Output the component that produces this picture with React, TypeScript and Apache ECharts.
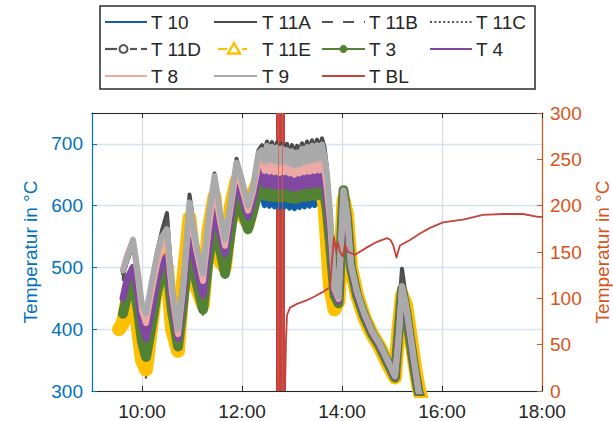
import React, { useEffect, useRef } from "react";
import * as echarts from "echarts";

// Sample times (decimal hours) shared by the furnace thermocouples
const TIMES = [9.54, 9.62, 9.7, 9.82, 9.92, 10.0, 10.08, 10.18, 10.3, 10.4, 10.5, 10.6, 10.72, 10.82, 10.95, 11.08, 11.22, 11.33, 11.45, 11.56, 11.66, 11.78, 11.89, 12.0, 12.12, 12.22, 12.33,
  12.4, 12.45, 12.5, 12.55, 12.6, 12.65, 12.7, 12.75, 12.8, 12.85, 12.9, 12.95, 13.0, 13.05, 13.1, 13.15, 13.2, 13.25, 13.3, 13.35, 13.4, 13.45, 13.5, 13.55, 13.6, 13.65, 13.7,
  13.76, 13.85, 13.93, 14.03, 14.1, 14.18, 14.3, 14.45, 14.6, 14.75, 14.9, 15.06, 15.13, 15.2, 15.28, 15.36, 15.45, 15.53, 15.6];

const T10 = [null, 420, 450, 472, 425, 375, 350, 395, 455, 485, 500, 425, 368, 435, 535, 475, 428, 505, 572, 525, 486, 555, 614, 585, 558, 585, 612,
  612, 600, 613, 599, 612, 598, 611, 597, 610, 598, 609, 596, 608, 595, 607, 597, 610, 598, 611, 599, 612, 600, 613, 601, 614, 602, 575,
  535, 452, 440, 622, 578, 498, 453, 418, 391, 371, 346, 320, 392, 460, 428, 383, 333, 296, 280];
const T11A = [null, 490, 512, 540, 488, 438, 420, 470, 525, 560, 588, 475, 400, 475, 618, 545, 492, 585, 652, 595, 548, 615, 676, 645, 604, 636, 690,
  698, 688, 704, 690, 703, 688, 702, 687, 701, 688, 700, 686, 698, 684, 697, 686, 701, 688, 704, 690, 706, 692, 707, 693, 709, 695, 660,
  598, 475, 455, 628, 595, 510, 465, 428, 400, 380, 355, 328, 420, 498, 450, 398, 348, 302, 286];
const T11B = [null, 486, 508, 536, 484, 434, 415, 465, 520, 555, 580, 470, 396, 472, 612, 542, 489, 582, 647, 592, 546, 612, 672, 642, 602, 633, 686,
  695, 685, 701, 687, 700, 685, 699, 684, 698, 685, 697, 683, 695, 681, 694, 683, 698, 685, 701, 687, 703, 689, 704, 690, 706, 692, 657,
  595, 473, 454, 626, 593, 508, 464, 427, 399, 379, 354, 327, 410, 490, 447, 397, 347, 301, 285];
const T11C = [null, 483, 505, 532, 480, 430, 410, 462, 516, 550, 572, 466, 393, 470, 608, 538, 486, 578, 643, 588, 543, 608, 668, 638, 600, 630, 682,
  693, 683, 699, 685, 698, 683, 697, 682, 696, 683, 695, 681, 693, 679, 692, 681, 696, 683, 699, 685, 701, 687, 702, 688, 704, 690, 655,
  593, 472, 453, 625, 592, 507, 463, 426, 398, 378, 353, 326, 405, 485, 445, 396, 346, 301, 285];
const T11D = [null, 480, 508, 535, 480, 430, 322, 460, 515, 548, 575, 465, 362, 468, 600, 535, 424, 575, 640, 585, 540, 605, 665, 635, 596, 628, 682,
  690, 680, 696, 682, 695, 680, 694, 679, 693, 680, 692, 678, 690, 676, 689, 678, 693, 680, 696, 682, 698, 684, 699, 685, 701, 687, 652,
  592, 470, 450, 624, 590, 505, 461, 424, 397, 377, 351, 324, 400, 485, 445, 396, 346, 300, 284];
const T11E = [400, 410, 445, 470, 400, 350, 335, 400, 480, 520, 500, 400, 365, 475, 580, 470, 440, 560, 615, 510, 500, 600, 640, 585, 572, 620, 640,
  645, 628, 646, 627, 644, 626, 643, 625, 642, 626, 641, 624, 640, 623, 639, 625, 642, 626, 643, 627, 644, 628, 640, 622, 625, 600, 540,
  470, 432, 445, 610, 585, 500, 455, 418, 392, 372, 346, 322, 400, 455, 440, 395, 345, 305, 285];
const T3 = [null, 425, 455, 478, 430, 380, 355, 400, 460, 490, 505, 430, 372, 440, 540, 480, 432, 510, 577, 530, 490, 560, 620, 590, 562, 590, 628,
  635, 616, 636, 615, 634, 614, 633, 613, 632, 614, 631, 612, 630, 611, 629, 613, 632, 614, 633, 615, 634, 616, 635, 617, 636, 618, 590,
  540, 455, 442, 625, 580, 500, 455, 420, 393, 373, 348, 322, 395, 465, 430, 385, 335, 298, 282];
const T4 = [null, 450, 480, 500, 455, 405, 385, 425, 480, 508, 518, 445, 385, 455, 560, 500, 455, 530, 595, 555, 522, 585, 642, 612, 582, 610, 648,
  657, 634, 658, 633, 656, 632, 655, 631, 654, 632, 653, 630, 652, 628, 651, 630, 654, 632, 655, 633, 656, 634, 657, 635, 658, 636, 605,
  560, 460, 446, 620, 585, 502, 458, 422, 395, 375, 350, 323, 390, 462, 435, 390, 340, 300, 283];
const T8 = [null, 497, 520, 543, 485, 430, 410, 455, 505, 535, 545, 458, 392, 465, 590, 530, 478, 560, 630, 575, 535, 600, 660, 628, 592, 622, 668,
  680, 656, 681, 655, 679, 654, 678, 653, 677, 654, 676, 652, 675, 650, 674, 652, 677, 654, 678, 655, 679, 656, 680, 657, 681, 658, 625,
  575, 465, 449, 622, 588, 503, 460, 424, 396, 376, 351, 324, 385, 466, 438, 393, 343, 300, 284];
const T9 = [null, 495, 515, 545, 490, 440, 425, 470, 520, 550, 562, 470, 400, 470, 605, 540, 490, 580, 648, 590, 545, 610, 670, 640, 600, 630, 685,
  690, 672, 697, 674, 695, 672, 694, 670, 693, 671, 690, 668, 688, 665, 686, 667, 692, 670, 695, 672, 697, 674, 698, 676, 699, 678, 650,
  590, 470, 452, 625, 590, 505, 462, 425, 398, 378, 352, 325, 380, 470, 440, 395, 345, 300, 285];

// Base-layer temperature (right axis)
const BL_TIMES = [12.86, 12.88, 12.9, 12.96, 13.1, 13.3, 13.45, 13.62, 13.76, 13.8, 13.84, 13.88, 13.92, 13.96, 14.02, 14.06, 14.12, 14.26, 14.5, 14.7, 14.9, 14.97, 15.02, 15.09, 15.13, 15.16, 15.36, 15.56, 15.76, 16.02, 16.42, 16.82, 17.22, 17.62, 17.92, 18.0];
const BL_VALUES = [0, 55, 82, 90, 94, 98, 102, 107, 112, 140, 166, 152, 160, 150, 145, 158, 150, 147, 155, 161, 165, 163, 158, 144, 152, 157, 163, 170, 176, 182, 185, 190, 191, 191, 188, 188];
// Interval in which the base-layer sensor reading swings across the full range
const BL_BAND = [12.68, 12.86];
const BL_BAND_STREAKS = [12.735, 12.8];

const X_TICKS = [10, 12, 14, 16, 18];

const AXIS_BLUE = "#0072BD";
const AXIS_ORANGE = "#D95319";
const INK = "#262626";
const FONT = "'Liberation Sans', Arial, Helvetica, sans-serif";

type Marker = "none" | "circle" | "triangle" | "dot";
interface Def {
  name: string;
  values: (number | null)[];
  color: string;
  width: number;
  dash: "solid" | "dashed" | "dotted" | number[];
  legendDash?: number[];
  marker: Marker;
}

const DEFS: Def[] = [
  { name: "T 10", values: T10, color: "#115FA8", width: 5, dash: "solid", marker: "none" },
  { name: "T 11A", values: T11A, color: "#4A4A4A", width: 4, dash: "solid", marker: "none" },
  { name: "T 11B", values: T11B, color: "#555555", width: 2.5, dash: "dashed", legendDash: [11, 10], marker: "none" },
  { name: "T 11C", values: T11C, color: "#555555", width: 2.5, dash: "dotted", legendDash: [2, 2.4], marker: "none" },
  { name: "T 11D", values: T11D, color: "#555555", width: 2.5, dash: [8, 3, 2, 3], marker: "circle" },
  { name: "T 11E", values: T11E, color: "#FFC000", width: 14, dash: "solid", marker: "triangle" },
  { name: "T 3", values: T3, color: "#548235", width: 10, dash: "solid", marker: "dot" },
  { name: "T 4", values: T4, color: "#8048A0", width: 7, dash: "solid", marker: "none" },
  { name: "T 8", values: T8, color: "#EBAAA5", width: 6, dash: "solid", marker: "none" },
  { name: "T 9", values: T9, color: "#AAAAAA", width: 6, dash: "solid", marker: "none" },
];
const BL_NAME = "T BL";
const BL_COLOR = "#C7423A";

function buildLegend(): any[] {
  const rowsY = [22, 49, 76];
  const colLine = [[105, 147], [214, 257], [322, 365], [430, 472]];
  const colText = [151, 262, 369, 476];
  const entries = [
    ...DEFS.map((d) => ({ name: d.name, color: d.color, dash: d.legendDash || null, marker: d.marker })),
    { name: BL_NAME, color: BL_COLOR, dash: null as number[] | null, marker: "none" as Marker },
  ];
  const els: any[] = [
    {
      type: "rect",
      shape: { x: 100, y: 6, width: 435, height: 83 },
      style: { fill: "#ffffff", stroke: "#2b2b2b", lineWidth: 1.5 },
      z: 100,
    },
  ];
  const seg = (x1: number, x2: number, y: number, color: string, dash?: number[] | null) => ({
    type: "line",
    shape: { x1, y1: y, x2, y2: y },
    style: { stroke: color, lineWidth: 2.2, lineDash: dash || null },
    z: 101,
  });
  entries.forEach((e, i) => {
    const row = Math.floor(i / 4);
    const col = i % 4;
    const y = rowsY[row];
    const [x0, x1] = colLine[col];
    if (e.marker === "circle") {
      els.push(seg(x0, x0 + 12, y, e.color));
      els.push(seg(x0 + 25, x0 + 32, y, e.color));
      els.push(seg(x0 + 36, x1, y, e.color));
      els.push({
        type: "circle",
        shape: { cx: x0 + 18.5, cy: y, r: 4 },
        style: { fill: "#ffffff", stroke: e.color, lineWidth: 2 },
        z: 102,
      });
    } else if (e.marker === "triangle") {
      const cx = x0 + 20;
      els.push(seg(x0 + 4, x0 + 13, y, e.color));
      els.push(seg(x0 + 28, x0 + 33, y, e.color));
      els.push({
        type: "polygon",
        shape: { points: [[cx - 6, y + 4.5], [cx + 6, y + 4.5], [cx, y - 6]] },
        style: { fill: "none", stroke: e.color, lineWidth: 2.4 },
        z: 102,
      });
    } else {
      els.push(seg(x0, x1, y, e.color, e.dash));
      if (e.marker === "dot") {
        els.push({
          type: "circle",
          shape: { cx: (x0 + x1) / 2, cy: y, r: 3.6 },
          style: { fill: e.color, stroke: e.color, lineWidth: 1 },
          z: 102,
        });
      }
    }
    els.push({
      type: "text",
      x: colText[col],
      y,
      style: {
        text: e.name,
        fontSize: 19,
        fontFamily: FONT,
        fill: INK,
        align: "left",
        verticalAlign: "middle",
      },
      z: 103,
    });
  });
  return els;
}

export default function App() {
  const ref = useRef<HTMLDivElement>(null);

  useEffect(() => {
    if (!ref.current) return;
    const chart = echarts.init(ref.current, undefined, { renderer: "svg" });

    const tempSeries = DEFS.map((d) => ({
      name: d.name,
      type: "line",
      xAxisIndex: 0,
      yAxisIndex: 0,
      data: TIMES.map((t, i) => [t, d.values[i]]),
      showSymbol: false,
      symbol: "none",
      connectNulls: false,
      silent: true,
      lineStyle: { color: d.color, width: d.width, type: d.dash, join: "round", cap: "round" },
      itemStyle: { color: d.color },
      emphasis: { disabled: true },
    }));

    const blSeries = {
      name: BL_NAME,
      type: "line",
      xAxisIndex: 0,
      yAxisIndex: 1,
      data: BL_TIMES.map((t, i) => [t, BL_VALUES[i]]),
      showSymbol: false,
      symbol: "none",
      silent: true,
      lineStyle: { color: BL_COLOR, width: 1.8, join: "round" },
      itemStyle: { color: BL_COLOR },
      emphasis: { disabled: true },
      markArea: {
        silent: true,
        itemStyle: { color: BL_COLOR, opacity: 1 },
        data: [[{ xAxis: BL_BAND[0] }, { xAxis: BL_BAND[1] }]],
      },
      markLine: {
        silent: true,
        symbol: ["none", "none"],
        label: { show: false },
        lineStyle: { color: "#D45A50", width: 0.8, type: "solid" },
        data: BL_BAND_STREAKS.map((x) => ({ xAxis: x })),
      },
    };

    const xCommon = {
      type: "value",
      min: 9,
      max: 18,
    };

    chart.setOption({
      animation: false,
      backgroundColor: "#ffffff",
      textStyle: { fontFamily: FONT },
      grid: {
        left: 92,
        right: 71,
        top: 113,
        bottom: 30,
        containLabel: false,
        outerBoundsMode: "none",
      },
      xAxis: [
        {
          ...xCommon,
          position: "bottom",
          axisLine: { show: true, onZero: false, lineStyle: { color: INK, width: 1.2 } },
          axisTick: { show: true, inside: true, length: 5, customValues: X_TICKS, lineStyle: { color: INK } },
          axisLabel: {
            customValues: X_TICKS,
            formatter: (v: number) => `${v}:00`,
            color: INK,
            fontSize: 19,
            fontFamily: FONT,
            margin: 11,
          },
          splitLine: { show: true, lineStyle: { color: "#dcdcdc", width: 1.3 } },
        },
        {
          ...xCommon,
          position: "top",
          axisLine: { show: true, onZero: false, lineStyle: { color: INK, width: 1.2 } },
          axisTick: { show: true, inside: true, length: 5, customValues: X_TICKS, lineStyle: { color: INK } },
          axisLabel: { show: false },
          splitLine: { show: false },
        },
      ],
      yAxis: [
        {
          type: "value",
          position: "left",
          min: 300,
          max: 750,
          interval: 100,
          name: "Temperatur in °C",
          nameLocation: "middle",
          nameGap: 46,
          nameTextStyle: { color: AXIS_BLUE, fontSize: 19, fontFamily: FONT },
          axisLine: { show: true, lineStyle: { color: AXIS_BLUE, width: 1.2 } },
          axisTick: { show: true, inside: true, length: 5, lineStyle: { color: AXIS_BLUE } },
          axisLabel: { color: AXIS_BLUE, fontSize: 19, fontFamily: FONT, margin: 9, showMaxLabel: false },
          splitLine: { show: true, lineStyle: { color: "#d3e5f4", width: 1.3 } },
        },
        {
          type: "value",
          position: "right",
          min: 0,
          max: 300,
          interval: 50,
          name: "Temperatur in °C",
          nameLocation: "middle",
          nameGap: 48,
          nameTextStyle: { color: AXIS_ORANGE, fontSize: 19, fontFamily: FONT },
          axisLine: { show: true, lineStyle: { color: AXIS_ORANGE, width: 1.2 } },
          axisTick: { show: true, inside: true, length: 5, lineStyle: { color: AXIS_ORANGE } },
          axisLabel: { color: AXIS_ORANGE, fontSize: 19, fontFamily: FONT, margin: 8 },
          splitLine: { show: false },
        },
      ],
      series: [...tempSeries, blSeries],
      graphic: buildLegend(),
    });

    return () => chart.dispose();
  }, []);

  return (
    <div
      ref={ref}
      style={{ position: "absolute", left: 0, top: 0, width: 613, height: 421, background: "#fff" }}
    />
  );
}
